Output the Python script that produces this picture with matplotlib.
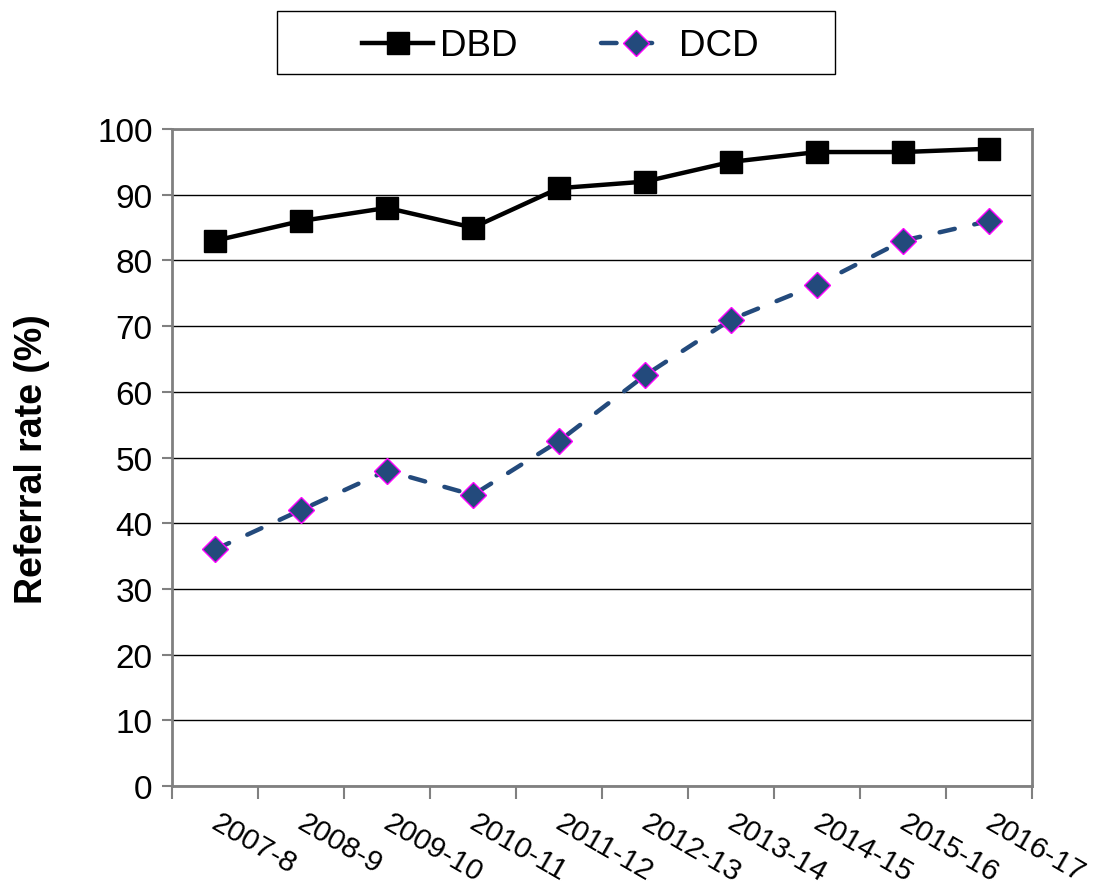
import matplotlib.pyplot as plt
from matplotlib.patches import Rectangle
import numpy as np

plt.rcParams['font.family'] = ['Liberation Sans', 'DejaVu Sans']

seasons = ["2007-8", "2008-9", "2009-10", "2010-11", "2011-12",
           "2012-13", "2013-14", "2014-15", "2015-16", "2016-17"]
dbd = [83, 86, 88, 85, 91, 92, 95, 96.5, 96.5, 97]
dcd = [36, 42, 48, 44.3, 52.5, 62.5, 71, 76.3, 83, 86]

x = np.arange(len(seasons))

fig = plt.figure(figsize=(11.06, 8.95), dpi=100)
ax = fig.add_axes([0.1555, 0.1207, 0.7775, 0.734])

ax.plot(x, dbd, color="black", linewidth=3.2, marker="s", markersize=16,
        label="DBD", zorder=3)
ax.plot(x, dcd, color="#234A7C", linewidth=3.2, linestyle=(0, (3.5, 4.5)),
        dash_capstyle="round", marker="D", markersize=13,
        markerfacecolor="#234A7C", markeredgecolor="#FF00FF",
        markeredgewidth=1.0, label="DCD", zorder=3)

ax.set_xlim(-0.5, len(seasons) - 0.5)
ax.set_ylim(0, 100)
ax.set_yticks(range(0, 101, 10))
ax.tick_params(axis="y", labelsize=24, length=7, color="#808080", width=1.5,
               pad=7)
ax.grid(axis="y", color="black", linewidth=1)
ax.set_axisbelow(True)

# category boundaries as ticks, labels at the centres
ax.set_xticks(np.arange(-0.5, len(seasons)))
ax.set_xticklabels([])
ax.tick_params(axis="x", length=9, color="#808080", width=1.5)
for i, s in enumerate(seasons):
    ax.text(i + 0.06, -3.4, s, rotation=-30, rotation_mode="anchor",
            ha="left", va="top", fontsize=21.5)

for sp in ax.spines.values():
    sp.set_color("#808080")
    sp.set_linewidth(2)

ax.set_ylabel("Referral rate (%)", fontsize=27, fontweight="bold")
ax.yaxis.set_label_coords(-0.142, 0.499)

leg = fig.legend(loc="center left", bbox_to_anchor=(362 / 1106, 1 - 47 / 895),
                 ncol=2, fontsize=26.5, frameon=False,
                 handlelength=1.93, columnspacing=2.26, borderpad=0,
                 handletextpad=0.19, borderaxespad=0)
fig.patches.append(Rectangle((277 / 1106, 1 - 75 / 895), 558 / 1106, 63 / 895,
                             transform=fig.transFigure, fill=False,
                             edgecolor="black", linewidth=1))

fig.savefig("out.png", dpi=100)
